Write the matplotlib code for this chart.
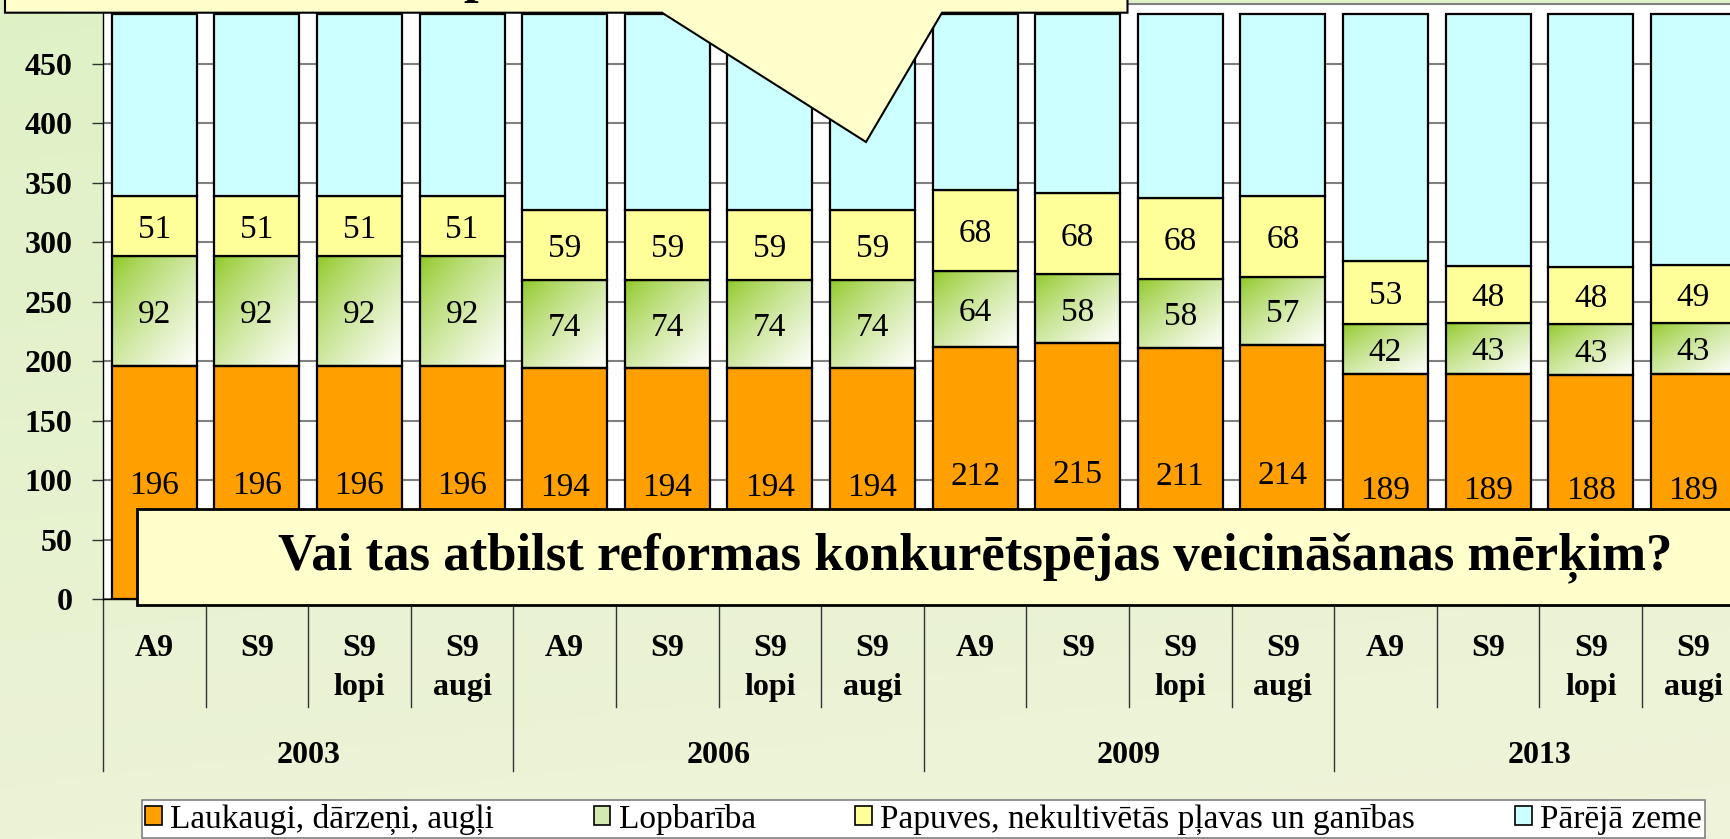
import numpy as np
import matplotlib
matplotlib.use("Agg")
import matplotlib.pyplot as plt
from matplotlib.patches import Rectangle, Polygon, Patch
from matplotlib.lines import Line2D
import matplotlib.transforms as mtransforms

plt.rcParams['font.family'] = ['Liberation Serif', 'DejaVu Serif']

# ---------------- data ----------------
years = ["2003", "2006", "2009", "2013"]
sub_labels = ["A9", "S9", "S9\nlopi", "S9\naugi"]
series_names = ["Laukaugi, dārzeņi, augļi", "Lopbarība",
                "Papuves, nekultivētās pļavas un ganības", "Pārējā zeme"]
laukaugi = [196, 196, 196, 196, 194, 194, 194, 194, 212, 215, 211, 214, 189, 189, 188, 189]
lopbariba = [92, 92, 92, 92, 74, 74, 74, 74, 64, 58, 58, 57, 42, 43, 43, 43]
papuves = [51, 51, 51, 51, 59, 59, 59, 59, 68, 68, 68, 68, 53, 48, 48, 49]
pareja = [153, 153, 153, 153, 165, 165, 165, 165, 148, 151, 155, 153, 208, 212, 213, 211]
yticks = [0, 50, 100, 150, 200, 250, 300, 350, 400, 450]
y_max = 500
callout_text = "Vai tas atbilst reformas konkurētspējas veicināšanas mērķim?"
top_callout_text = "p"

# ---------------- figure ----------------
W, H = 1730, 839
fig = plt.figure(figsize=(W / 100, H / 100), dpi=100)


def fx(px):
    return px / W


def fy(py):
    return 1 - py / H


# background gradient
bg = fig.add_axes([0, 0, 1, 1], zorder=-5)
yy, xx = np.mgrid[0:1:200j, 0:1:200j]
t = np.clip(0.8 * yy + 0.2 * xx, 0, 1)[..., None]
c_top = np.array([0.872, 0.945, 0.775])
c_bot = np.array([0.940, 0.955, 0.855])
bg.imshow(c_top * (1 - t) + c_bot * t, extent=[0, 1, 0, 1], aspect='auto', origin='upper')
bg.set_axis_off()

ax = fig.add_axes([fx(103), fy(599.3), 1641.6 / W, (599.3 - 4) / H], zorder=0)
ax.set_facecolor('white')

n = len(laukaugi)
x = np.arange(n)
bw = 0.83
orange = '#FFA000'
yellow = '#FFFF99'
cyan = '#CCFFFF'
green = np.array([0.55, 0.78, 0.12])

b1 = ax.bar(x, laukaugi, width=bw, color=orange, edgecolor='black', linewidth=1.6, zorder=3)
bottom2 = np.array(laukaugi)
b2 = ax.bar(x, lopbariba, bottom=bottom2, width=bw, color='none', edgecolor='black',
            linewidth=1.6, zorder=3)
bottom3 = bottom2 + np.array(lopbariba)
b3 = ax.bar(x, papuves, bottom=bottom3, width=bw, color=yellow, edgecolor='black',
            linewidth=1.6, zorder=3)
bottom4 = bottom3 + np.array(papuves)
b4 = ax.bar(x, pareja, bottom=bottom4, width=bw, color=cyan, edgecolor='black',
            linewidth=1.6, zorder=3)

# diagonal green-to-white gradient in the Lopbarība segments
gy, gx = np.mgrid[0:1:64j, 0:1:64j]
gt = (((gx + gy) / 2) ** 0.75)[..., None]
grad = green * (1 - gt) + np.array([1.0, 1.0, 1.0]) * gt
for rect in b2:
    x0, y0 = rect.get_x(), rect.get_y()
    im = ax.imshow(grad, extent=[x0, x0 + rect.get_width(), y0, y0 + rect.get_height()],
                   aspect='auto', origin='upper', zorder=2.5, interpolation='bilinear')
    im.set_clip_path(rect)

# value labels
for bars, vals, bots in [(b1, laukaugi, np.zeros(n)), (b2, lopbariba, bottom2),
                         (b3, papuves, bottom3)]:
    for xi, v, b0 in zip(x, vals, bots):
        ax.text(xi, b0 + v / 2, str(v), ha='center', va='center_baseline',
                fontsize=24, zorder=4)

ax.set_xlim(-0.5, n - 0.5)
ax.set_ylim(0, y_max)
ax.set_yticks(yticks)
ax.set_yticklabels([str(v) for v in yticks], fontsize=23, fontweight='bold')
ax.tick_params(axis='y', length=8, width=1, color='#333333', pad=14)
ax.set_xticks([])
ax.yaxis.grid(True, color='#808080', linewidth=1.5)
ax.set_axisbelow(True)
ax.spines['right'].set_visible(False)
ax.spines['top'].set_color('#808080')
ax.spines['top'].set_linewidth(1.5)
ax.spines['left'].set_linewidth(1)
ax.spines['bottom'].set_linewidth(1)

# category axis (two levels)
trans = mtransforms.blended_transform_factory(ax.transData, fig.transFigure)
for i in range(n):
    ax.text(i, fy(634), sub_labels[i % 4], ha='center', va='top', fontsize=23,
            fontweight='bold', linespacing=1.45, transform=trans, clip_on=False)
for g, yr in enumerate(years):
    ax.text(g * 4 + 1.5, fy(752), yr, ha='center', va='center_baseline', fontsize=23,
            fontweight='bold', transform=trans, clip_on=False)
for k in range(n + 1):
    bx = k - 0.5
    end = 771 if k % 4 == 0 else 707
    ax.add_line(Line2D([bx, bx], [fy(599.3), fy(end)], transform=trans, color='#333333',
                       linewidth=1.0, clip_on=False))

# legend
handles = [Patch(facecolor=orange, edgecolor='black', linewidth=1.2),
           Patch(facecolor='#D2EAB0', edgecolor='black', linewidth=1.2),
           Patch(facecolor=yellow, edgecolor='black', linewidth=1.2),
           Patch(facecolor=cyan, edgecolor='black', linewidth=1.2)]
leg = fig.legend(handles, series_names, loc='lower left',
                 bbox_to_anchor=(fx(141.7), fy(838), (1705 - 141.7) / W, 43 / H),
                 mode='expand', ncol=4, fontsize=24, frameon=True, fancybox=False,
                 edgecolor='#808080', framealpha=1, facecolor='white',
                 handlelength=0.5, handleheight=0.5, handletextpad=0.25,
                 borderpad=0.1, borderaxespad=0, columnspacing=0.4)
leg.get_frame().set_linewidth(1.2)
leg.set_zorder(6)

# callouts
fig.add_artist(Rectangle((fx(136.7), fy(605)), (1780 - 136.7) / W, (605 - 509) / H,
                         transform=fig.transFigure, facecolor='#FFFFCC',
                         edgecolor='black', linewidth=2.0, zorder=10))
fig.text(fx(975), fy(569), callout_text, ha='center', va='baseline', fontsize=38,
         fontweight='bold', zorder=11)

pts = [(5, -30), (1127.5, -30), (1127.5, 12.7), (942, 12.7), (866, 142), (662, 12.7), (5, 12.7)]
fig.add_artist(Polygon([(fx(a), fy(b)) for a, b in pts], closed=True,
                       transform=fig.transFigure, facecolor='#FFFFCC',
                       edgecolor='black', linewidth=1.5, zorder=10))
fig.text(fx(463), fy(-8), top_callout_text, ha='left', va='baseline', fontsize=38,
         fontweight='bold', zorder=11)

fig.savefig('out.png', dpi=100)
